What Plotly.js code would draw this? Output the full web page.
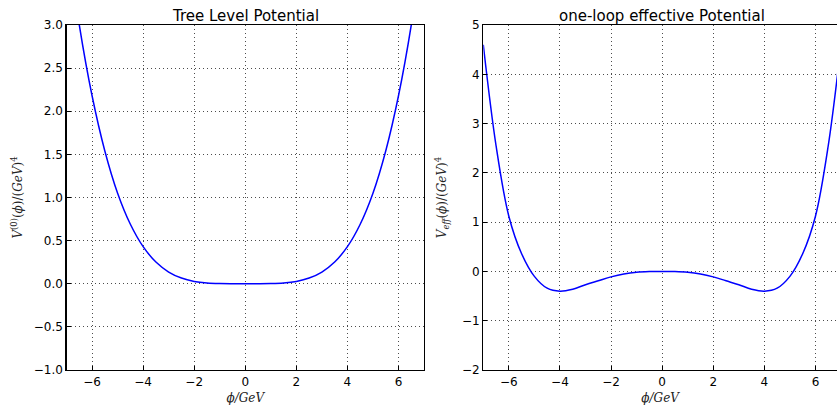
<!DOCTYPE html>
<html>
<head>
<meta charset="utf-8">
<script src="https://cdn.plot.ly/plotly-3.0.1.min.js"></script>
<style>html,body{margin:0;padding:0;background:#fff;}#chart{width:837px;height:408px;}</style>
</head>
<body>
<div id="chart"></div>
<script>
var phi = [-7,-6.5,-6,-5.5,-5,-4.5,-4,-3.5,-3,-2.5,-2,-1.5,-1,-0.5,0,0.5,1,1.5,2,2.5,3,3.5,4,4.5,5,5.5,6,6.5,7];
var treeV = [4.05,3.0,2.18,1.54,1.05,0.69,0.43,0.252,0.136,0.066,0.027,0.0085,0.0017,0,0,0,0.0017,0.0085,0.027,0.066,0.136,0.252,0.43,0.69,1.05,1.54,2.18,3.0,4.05];
var effV = [4.6,2.55,1.12,0.36,-0.1,-0.34,-0.4,-0.36,-0.27,-0.19,-0.11,-0.05,-0.015,-0.002,0,-0.002,-0.015,-0.05,-0.11,-0.19,-0.27,-0.36,-0.4,-0.34,-0.1,0.36,1.12,2.55,4.6];
var xTicks = [-6,-4,-2,0,2,4,6];
var title1 = "Tree Level Potential";
var title2 = "one-loop effective Potential";

var lineStyle = {color:'#0000ff', width:1.5, shape:'spline', smoothing:1};
var traces = [
  {x:phi, y:treeV, type:'scatter', mode:'lines', line:lineStyle, xaxis:'x', yaxis:'y', hoverinfo:'skip'},
  {x:phi, y:effV, type:'scatter', mode:'lines', line:lineStyle, xaxis:'x2', yaxis:'y2', hoverinfo:'skip'}
];
var tickFont = {family:'DejaVu Sans', size:12, color:'#000'};
var serif = {family:'DejaVu Serif', size:12, color:'#222'};
var gridC = 'rgba(0,0,0,0.7)', gridD = '1px,3px';
function xa(domain, range, anchor){
  return {domain:domain, range:range, anchor:anchor, tickvals:xTicks, ticks:'inside', ticklen:4, tickcolor:'#000',
    showline:true, linecolor:'#000', linewidth:1.2, mirror:true, showgrid:true, gridcolor:gridC, griddash:gridD, gridwidth:1,
    zeroline:false, tickfont:tickFont, title:{text:'<i>ϕ/GeV</i>', font:serif, standoff:6}};
}
var yd = [0.0931, 0.9387];
var layout = {
  width:837, height:408, margin:{l:0,r:0,t:0,b:0}, showlegend:false,
  paper_bgcolor:'#fff', plot_bgcolor:'#fff',
  xaxis: xa([0.0795,0.5066],[-7,7],'y'),
  xaxis2: xa([0.5774,1],[-7,6.843],'y2'),
  yaxis: {domain:yd, range:[-1,3], dtick:0.5, tick0:-1, tickformat:'.1f', ticks:'inside', ticklen:4, tickcolor:'#000',
    showline:true, linecolor:'#000', linewidth:1.2, mirror:true, showgrid:true, gridcolor:gridC, griddash:gridD, zeroline:false,
    tickfont:tickFont, anchor:'x', title:{text:'<i>V</i><sup>(0)</sup>(<i>ϕ</i>)/(<i>GeV</i>)<sup>4</sup>', font:serif, standoff:8}},
  yaxis2: {domain:yd, range:[-2,5], dtick:1, ticks:'inside', ticklen:4, tickcolor:'#000',
    showline:true, linecolor:'#000', linewidth:1.2, mirror:false, showgrid:true, gridcolor:gridC, griddash:gridD, zeroline:false,
    tickfont:tickFont, anchor:'x2', title:{text:'<i>V</i><sub><i>eff</i></sub>(<i>ϕ</i>)/(<i>GeV</i>)<sup>4</sup>', font:serif, standoff:12}},
  annotations:[
    {text:title1, xref:'x', x:0, yref:'paper', y:0.962, yanchor:'middle', showarrow:false, font:{family:'DejaVu Sans', size:15, color:'#000'}},
    {text:title2, xref:'x2', x:0, yref:'paper', y:0.962, yanchor:'middle', showarrow:false, font:{family:'DejaVu Sans', size:15, color:'#000'}}
  ]
};
Plotly.newPlot('chart', traces, layout, {staticPlot:true, displayModeBar:false});
</script>
</body>
</html>
